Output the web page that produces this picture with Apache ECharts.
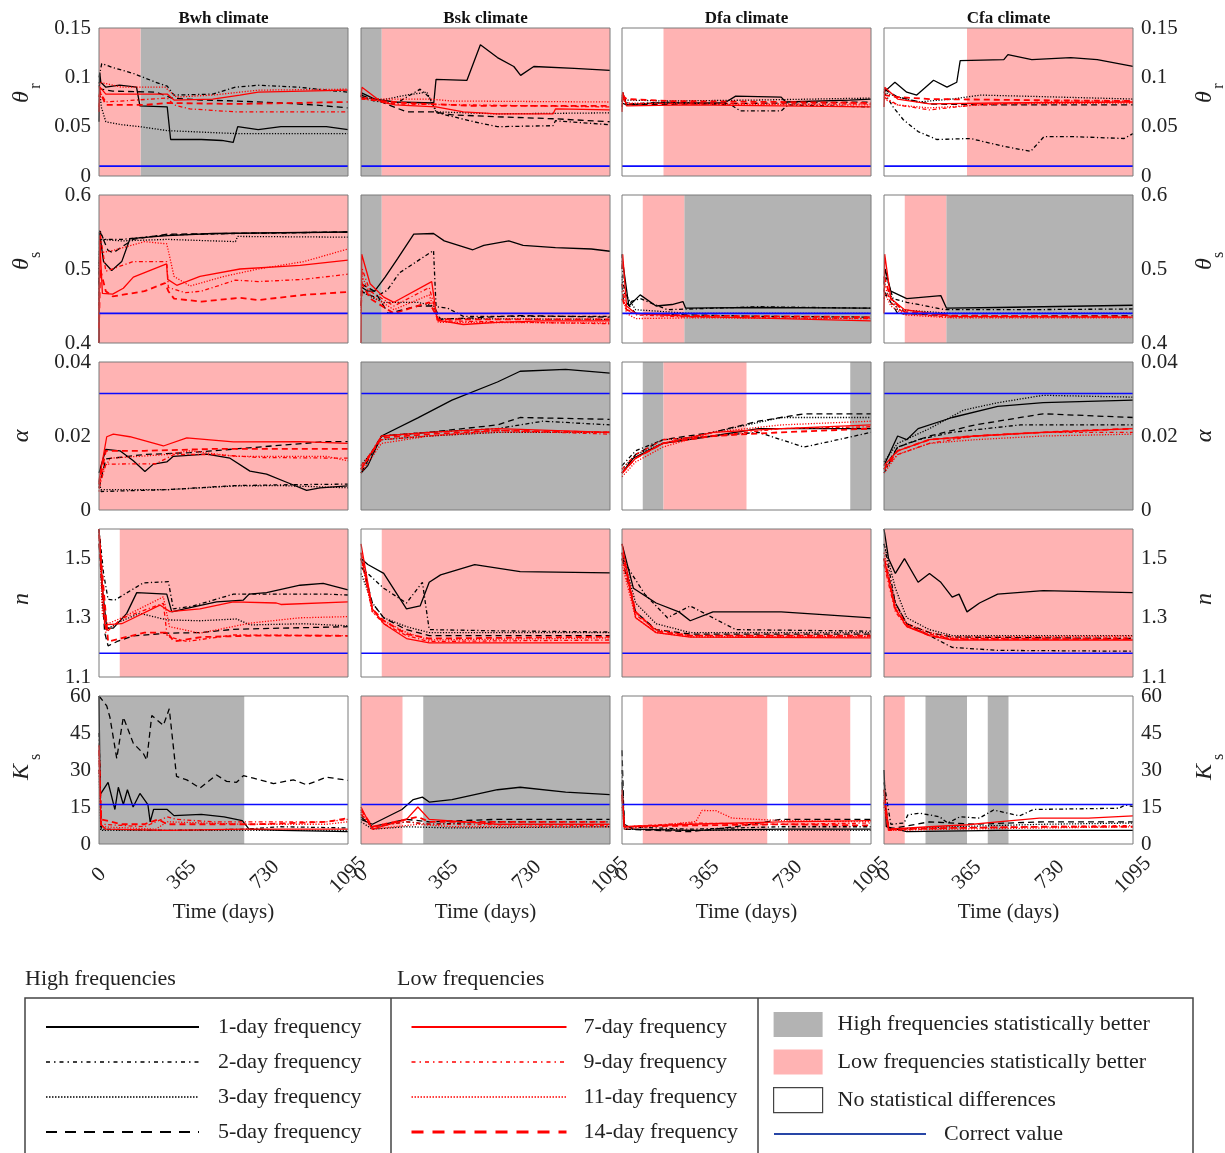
<!DOCTYPE html>
<html><head><meta charset="utf-8">
<script src="https://cdn.jsdelivr.net/npm/echarts@6/dist/echarts.min.js"></script>
<style>html,body{margin:0;padding:0;background:#fff}#c{width:1225px;height:1153px}</style>
</head><body><div id="c"></div>
<script>
// ---------- categories / labels ----------
const climates = ['Bwh climate', 'Bsk climate', 'Dfa climate', 'Cfa climate'];
const freqNames = ['1-day frequency', '2-day frequency', '3-day frequency', '5-day frequency',
                   '7-day frequency', '9-day frequency', '11-day frequency', '14-day frequency'];
const shadeNames = { H: 'High frequencies statistically better', L: 'Low frequencies statistically better', N: 'No statistical differences' };
const xTickValues = [0, 365, 730, 1095];
const yTickLabels = [['0', '0.05', '0.1', '0.15'], ['0.4', '0.5', '0.6'], ['0', '0.02', '0.04'], ['1.1', '1.3', '1.5'], ['0', '15', '30', '45', '60']];
const yRanges = [[0, 0.15, 0.05], [0.4, 0.6, 0.1], [0, 0.04, 0.02], [1.1, 1.6, 0.2], [0, 60, 15]];
const correctValues = [0.01, 0.44, 0.0315, 1.18, 16];

// ---------- series values: [day, value], order = freqNames ----------
const bwhThetaR = [
  [[0,0.055],[3,0.105],[8,0.095],[30,0.09],[90,0.092],[165,0.09],[180,0.071],[300,0.07],[315,0.037],[450,0.037],[540,0.036],[590,0.034],[610,0.05],[700,0.047],[800,0.05],[1000,0.05],[1095,0.047]],
  [[0,0.1],[12,0.114],[60,0.11],[150,0.104],[250,0.095],[300,0.091],[330,0.082],[500,0.083],[600,0.09],[700,0.092],[880,0.09],[1000,0.087],[1095,0.085]],
  [[0,0.095],[10,0.07],[30,0.055],[100,0.052],[180,0.05],[300,0.046],[400,0.045],[600,0.043],[1095,0.043]],
  [[0,0.09],[10,0.088],[60,0.086],[250,0.085],[320,0.079],[450,0.077],[600,0.076],[800,0.074],[950,0.072],[1095,0.069]],
  [[0,0.065],[4,0.09],[30,0.083],[300,0.083],[330,0.077],[500,0.078],[620,0.082],[700,0.085],[1095,0.087]],
  [[0,0.07],[5,0.085],[30,0.075],[300,0.079],[330,0.072],[400,0.068],[600,0.065],[1095,0.065]],
  [[0,0.09],[5,0.095],[100,0.09],[290,0.09],[340,0.08],[500,0.082],[700,0.087],[1095,0.088]],
  [[0,0.08],[5,0.085],[30,0.072],[200,0.072],[300,0.074],[600,0.073],[1095,0.075]]
];
const bskThetaR = [
  [[0,0.08],[5,0.084],[60,0.078],[150,0.075],[320,0.074],[330,0.098],[466,0.097],[525,0.133],[600,0.12],[672,0.111],[702,0.102],[760,0.111],[938,0.109],[1095,0.107]],
  [[0,0.08],[60,0.076],[150,0.073],[260,0.088],[300,0.08],[335,0.064],[496,0.055],[600,0.05],[845,0.051],[855,0.056],[1095,0.052]],
  [[0,0.08],[90,0.077],[200,0.082],[290,0.085],[330,0.065],[600,0.063],[1095,0.064]],
  [[0,0.082],[90,0.075],[200,0.065],[320,0.065],[400,0.062],[600,0.06],[850,0.058],[1095,0.055]],
  [[0,0.08],[4,0.09],[90,0.075],[150,0.072],[330,0.07],[450,0.065],[600,0.063],[845,0.063],[855,0.068],[1095,0.067]],
  [[0,0.078],[90,0.076],[150,0.073],[500,0.072],[1095,0.07]],
  [[0,0.08],[90,0.078],[300,0.078],[400,0.076],[1095,0.075]],
  [[0,0.079],[90,0.076],[200,0.074],[500,0.071],[1095,0.071]]
];
const dfaThetaR = [
  [[0,0.075],[3,0.085],[20,0.072],[150,0.074],[450,0.074],[500,0.081],[700,0.08],[720,0.075],[1000,0.077],[1095,0.078]],
  [[0,0.07],[5,0.08],[30,0.073],[200,0.075],[480,0.072],[520,0.066],[700,0.066],[730,0.072],[1095,0.07]],
  [[0,0.076],[20,0.077],[200,0.076],[600,0.077],[1095,0.079]],
  [[0,0.074],[20,0.072],[300,0.073],[700,0.074],[1095,0.075]],
  [[0,0.065],[3,0.085],[20,0.071],[300,0.072],[700,0.071],[1095,0.07]],
  [[0,0.08],[20,0.073],[300,0.074],[700,0.073],[1095,0.073]],
  [[0,0.078],[20,0.074],[300,0.073],[1095,0.072]],
  [[0,0.082],[20,0.078],[200,0.076],[700,0.075],[1095,0.074]]
];
const cfaThetaR = [
  [[0,0.085],[48,0.095],[100,0.085],[144,0.082],[218,0.097],[277,0.09],[320,0.095],[335,0.117],[527,0.118],[545,0.123],[650,0.118],[821,0.12],[938,0.118],[1095,0.111]],
  [[0,0.085],[40,0.07],[85,0.057],[150,0.045],[232,0.037],[380,0.038],[527,0.03],[645,0.025],[704,0.04],[821,0.04],[1056,0.038],[1095,0.043]],
  [[0,0.085],[60,0.08],[150,0.075],[300,0.078],[424,0.082],[600,0.081],[1095,0.078]],
  [[0,0.088],[60,0.08],[200,0.073],[500,0.072],[1095,0.072]],
  [[0,0.07],[3,0.09],[60,0.078],[200,0.073],[500,0.074],[1095,0.075]],
  [[0,0.08],[60,0.072],[200,0.067],[400,0.072],[800,0.076],[1095,0.076]],
  [[0,0.078],[60,0.072],[200,0.069],[500,0.073],[1095,0.074]],
  [[0,0.082],[60,0.08],[200,0.078],[600,0.077],[1095,0.076]]
];
const bwhThetaS = [
  [[0,0.4],[2,0.55],[20,0.51],[56,0.498],[100,0.51],[136,0.541],[300,0.545],[500,0.548],[1095,0.55]],
  [[0,0.45],[3,0.553],[20,0.54],[100,0.54],[300,0.546],[600,0.548],[1095,0.55]],
  [[0,0.5],[4,0.54],[100,0.538],[300,0.54],[600,0.537],[610,0.544],[1095,0.543]],
  [[0,0.48],[5,0.55],[40,0.525],[63,0.522],[150,0.54],[300,0.547],[1095,0.55]],
  [[0,0.4],[3,0.54],[15,0.467],[60,0.466],[107,0.474],[151,0.489],[297,0.507],[302,0.486],[342,0.478],[444,0.49],[620,0.5],[884,0.505],[1095,0.512]],
  [[0,0.43],[4,0.55],[30,0.497],[150,0.51],[298,0.51],[305,0.475],[380,0.468],[450,0.47],[600,0.485],[700,0.483],[900,0.486],[1095,0.493]],
  [[0,0.45],[3,0.53],[10,0.522],[60,0.525],[200,0.537],[298,0.534],[330,0.49],[400,0.477],[550,0.49],[700,0.5],[900,0.51],[1095,0.527]],
  [[0,0.42],[5,0.5],[30,0.47],[60,0.463],[200,0.47],[290,0.481],[305,0.47],[330,0.46],[450,0.456],[620,0.461],[700,0.458],[900,0.465],[1095,0.469]]
];
const bskThetaS = [
  [[0,0.476],[30,0.47],[60,0.47],[106,0.489],[161,0.514],[232,0.547],[319,0.548],[366,0.538],[492,0.526],[540,0.532],[650,0.538],[713,0.532],[855,0.529],[1013,0.527],[1095,0.524]],
  [[0,0.47],[60,0.462],[114,0.471],[170,0.495],[319,0.525],[330,0.449],[382,0.447],[450,0.436],[1095,0.436]],
  [[0,0.47],[60,0.46],[100,0.455],[250,0.455],[320,0.45],[340,0.433],[1095,0.432]],
  [[0,0.48],[60,0.47],[120,0.44],[250,0.45],[320,0.45],[350,0.432],[700,0.437],[1095,0.435]],
  [[0,0.4],[3,0.52],[40,0.48],[100,0.462],[145,0.455],[311,0.483],[335,0.431],[450,0.425],[600,0.428],[800,0.43],[1095,0.43]],
  [[0,0.45],[5,0.5],[40,0.47],[145,0.45],[300,0.475],[340,0.43],[1095,0.426]],
  [[0,0.44],[5,0.49],[40,0.465],[145,0.445],[300,0.465],[340,0.428],[1095,0.427]],
  [[0,0.45],[5,0.48],[40,0.46],[145,0.44],[300,0.455],[340,0.432],[1095,0.432]]
];
const dfaThetaS = [
  [[0,0.5],[3,0.51],[30,0.45],[80,0.465],[150,0.45],[220,0.452],[268,0.456],[280,0.447],[600,0.448],[1095,0.447]],
  [[0,0.52],[5,0.48],[30,0.455],[80,0.46],[200,0.445],[600,0.449],[1095,0.447]],
  [[0,0.49],[5,0.47],[60,0.445],[300,0.44],[1095,0.44]],
  [[0,0.48],[5,0.46],[60,0.44],[300,0.438],[600,0.436],[1095,0.435]],
  [[0,0.5],[3,0.52],[20,0.45],[60,0.44],[300,0.436],[1095,0.43]],
  [[0,0.48],[20,0.445],[60,0.438],[300,0.435],[1095,0.433]],
  [[0,0.47],[20,0.44],[60,0.433],[300,0.434],[1095,0.433]],
  [[0,0.46],[20,0.445],[60,0.44],[300,0.437],[1095,0.435]]
];
const cfaThetaS = [
  [[0,0.48],[5,0.5],[30,0.47],[100,0.46],[250,0.464],[275,0.447],[500,0.448],[1095,0.451]],
  [[0,0.47],[10,0.49],[40,0.46],[100,0.455],[270,0.445],[600,0.445],[1095,0.446]],
  [[0,0.46],[20,0.47],[60,0.445],[300,0.44],[1095,0.44]],
  [[0,0.47],[20,0.46],[60,0.44],[300,0.437],[1095,0.437]],
  [[0,0.44],[3,0.52],[30,0.46],[90,0.445],[300,0.436],[1095,0.435]],
  [[0,0.48],[30,0.455],[90,0.44],[300,0.435],[1095,0.435]],
  [[0,0.47],[30,0.45],[90,0.438],[300,0.434],[1095,0.434]],
  [[0,0.49],[30,0.46],[90,0.442],[300,0.437],[1095,0.436]]
];
const bwhAlpha = [
  [[0,0.01],[30,0.0164],[92,0.016],[151,0.0133],[202,0.0104],[239,0.0124],[298,0.013],[327,0.0145],[473,0.0151],[576,0.014],[664,0.0105],[737,0.0097],[825,0.0075],[913,0.0053],[972,0.006],[1095,0.0065]],
  [[0,0.008],[10,0.005],[300,0.0055],[600,0.0066],[800,0.0068],[1095,0.007]],
  [[0,0.007],[10,0.0055],[300,0.0055],[600,0.0065],[800,0.0066],[1095,0.006]],
  [[0,0.006],[30,0.0138],[200,0.015],[400,0.0155],[600,0.0165],[1000,0.0185],[1095,0.0185]],
  [[0,0.008],[34,0.0198],[63,0.0205],[136,0.0198],[283,0.0173],[386,0.0195],[591,0.0184],[884,0.0185],[1095,0.018]],
  [[0,0.006],[30,0.0124],[250,0.0125],[330,0.015],[500,0.015],[700,0.0142],[1095,0.014]],
  [[0,0.005],[10,0.01],[50,0.014],[300,0.015],[400,0.016],[600,0.0145],[1000,0.0145],[1095,0.0133]],
  [[0,0.007],[30,0.016],[200,0.016],[500,0.0165],[1095,0.0165]]
];
const bskAlpha = [
  [[0,0.01],[30,0.012],[90,0.02],[250,0.0249],[400,0.0297],[600,0.0346],[700,0.0375],[900,0.038],[1095,0.037]],
  [[0,0.011],[90,0.02],[300,0.021],[600,0.022],[800,0.024],[1095,0.023]],
  [[0,0.012],[90,0.019],[300,0.02],[600,0.021],[1095,0.021]],
  [[0,0.01],[90,0.02],[300,0.021],[600,0.023],[700,0.025],[1095,0.0245]],
  [[0,0.011],[90,0.02],[300,0.021],[600,0.022],[1095,0.021]],
  [[0,0.012],[90,0.019],[300,0.02],[600,0.0215],[1095,0.0205]],
  [[0,0.01],[90,0.018],[300,0.02],[600,0.021],[1095,0.021]],
  [[0,0.011],[90,0.0195],[300,0.0205],[600,0.0215],[1095,0.021]]
];
const dfaAlpha = [
  [[0,0.01],[50,0.014],[180,0.018],[400,0.02],[600,0.022],[800,0.022],[1095,0.022]],
  [[0,0.012],[60,0.016],[180,0.019],[400,0.02],[600,0.021],[700,0.019],[800,0.017],[950,0.019],[1095,0.021]],
  [[0,0.011],[60,0.015],[180,0.018],[400,0.021],[700,0.025],[1095,0.025]],
  [[0,0.01],[60,0.015],[180,0.019],[400,0.021],[600,0.024],[800,0.026],[1095,0.026]],
  [[0,0.01],[60,0.014],[180,0.018],[400,0.021],[700,0.022],[1095,0.023]],
  [[0,0.011],[60,0.015],[180,0.019],[400,0.02],[700,0.022],[1095,0.0225]],
  [[0,0.009],[60,0.013],[180,0.017],[400,0.021],[700,0.023],[1095,0.024]],
  [[0,0.01],[60,0.014],[180,0.018],[400,0.02],[700,0.021],[1095,0.022]]
];
const cfaAlpha = [
  [[0,0.012],[30,0.016],[60,0.02],[100,0.019],[150,0.022],[300,0.025],[500,0.028],[700,0.029],[1095,0.0297]],
  [[0,0.01],[60,0.017],[150,0.019],[300,0.021],[600,0.023],[1095,0.023]],
  [[0,0.013],[60,0.018],[200,0.022],[350,0.027],[500,0.029],[700,0.031],[1095,0.0305]],
  [[0,0.011],[60,0.017],[200,0.02],[400,0.023],[700,0.026],[1095,0.025]],
  [[0,0.012],[60,0.016],[200,0.019],[400,0.02],[700,0.021],[1095,0.022]],
  [[0,0.011],[60,0.015],[200,0.018],[400,0.02],[700,0.021],[1095,0.021]],
  [[0,0.01],[60,0.015],[200,0.018],[400,0.019],[700,0.02],[1095,0.0205]],
  [[0,0.011],[60,0.016],[200,0.019],[400,0.02],[700,0.021],[1095,0.022]]
];
const bwhN = [
  [[0,1.6],[15,1.4],[34,1.265],[63,1.265],[122,1.315],[166,1.385],[298,1.38],[320,1.32],[386,1.332],[517,1.354],[635,1.36],[660,1.38],[737,1.385],[884,1.41],[986,1.416],[1095,1.394]],
  [[0,1.6],[20,1.45],[40,1.362],[70,1.36],[195,1.418],[305,1.422],[327,1.33],[415,1.34],[591,1.38],[750,1.38],[1000,1.38],[1095,1.377]],
  [[0,1.6],[15,1.35],[30,1.26],[100,1.29],[180,1.315],[298,1.293],[444,1.29],[605,1.296],[664,1.276],[900,1.28],[1095,1.273]],
  [[0,1.55],[25,1.25],[40,1.205],[80,1.22],[151,1.239],[298,1.248],[444,1.25],[591,1.261],[800,1.265],[1095,1.27]],
  [[0,1.6],[25,1.276],[100,1.28],[268,1.343],[312,1.321],[444,1.33],[591,1.354],[780,1.35],[800,1.345],[1095,1.354]],
  [[0,1.55],[30,1.25],[100,1.298],[283,1.349],[300,1.237],[386,1.22],[591,1.242],[1095,1.24]],
  [[0,1.6],[15,1.31],[40,1.28],[100,1.3],[283,1.371],[310,1.27],[444,1.248],[664,1.282],[884,1.3],[1095,1.304]],
  [[0,1.58],[40,1.22],[200,1.25],[300,1.25],[330,1.22],[450,1.235],[700,1.24],[1095,1.239]]
];
const bskN = [
  [[0,1.5],[30,1.48],[100,1.45],[200,1.33],[260,1.34],[300,1.42],[350,1.445],[500,1.48],[700,1.456],[1095,1.452]],
  [[0,1.47],[100,1.4],[200,1.35],[270,1.42],[300,1.26],[600,1.256],[1095,1.252]],
  [[0,1.45],[50,1.35],[100,1.3],[200,1.27],[300,1.25],[1095,1.25]],
  [[0,1.5],[50,1.35],[100,1.3],[200,1.26],[300,1.24],[1095,1.24]],
  [[0,1.55],[50,1.33],[100,1.28],[200,1.23],[300,1.215],[1095,1.215]],
  [[0,1.5],[50,1.32],[100,1.28],[200,1.24],[300,1.22],[1095,1.225]],
  [[0,1.5],[50,1.32],[100,1.29],[200,1.25],[300,1.225],[1095,1.232]],
  [[0,1.52],[50,1.33],[100,1.29],[200,1.245],[300,1.23],[1095,1.236]]
];
const dfaN = [
  [[0,1.55],[50,1.4],[150,1.35],[250,1.32],[300,1.29],[400,1.32],[700,1.32],[900,1.31],[1095,1.3]],
  [[0,1.5],[100,1.38],[200,1.3],[300,1.34],[500,1.26],[1095,1.255]],
  [[0,1.52],[60,1.35],[150,1.28],[300,1.25],[1095,1.25]],
  [[0,1.5],[60,1.32],[150,1.26],[300,1.245],[1095,1.245]],
  [[0,1.55],[60,1.3],[150,1.25],[300,1.235],[1095,1.232]],
  [[0,1.5],[60,1.31],[150,1.26],[300,1.24],[1095,1.238]],
  [[0,1.48],[60,1.3],[150,1.25],[300,1.236],[1095,1.236]],
  [[0,1.52],[60,1.32],[150,1.255],[300,1.24],[1095,1.24]]
];
const cfaN = [
  [[0,1.6],[20,1.5],[50,1.45],[90,1.5],[150,1.42],[200,1.45],[250,1.42],[300,1.37],[330,1.38],[365,1.32],[420,1.35],[500,1.38],[700,1.392],[1095,1.385]],
  [[0,1.55],[50,1.35],[100,1.28],[200,1.24],[300,1.2],[500,1.19],[1095,1.187]],
  [[0,1.55],[50,1.4],[100,1.3],[200,1.26],[300,1.24],[1095,1.24]],
  [[0,1.5],[50,1.35],[100,1.28],[200,1.25],[300,1.235],[1095,1.23]],
  [[0,1.5],[50,1.33],[100,1.27],[200,1.24],[300,1.225],[1095,1.225]],
  [[0,1.48],[50,1.32],[100,1.27],[200,1.245],[300,1.23],[1095,1.232]],
  [[0,1.52],[50,1.34],[100,1.28],[200,1.25],[300,1.235],[1095,1.238]],
  [[0,1.5],[50,1.33],[100,1.275],[200,1.24],[300,1.228],[1095,1.228]]
];
const bwhKs = [
  [[0,60],[5,20],[40,25],[70,14],[85,23],[107,16],[125,22],[150,15],[180,20.5],[215,16],[225,9],[240,14],[300,14],[330,11.5],[450,12],[550,11],[630,9.5],[660,6],[800,5.5],[1095,5]],
  [[0,45],[10,6],[300,5.5],[640,6],[800,7],[1095,6.5]],
  [[0,30],[8,5.5],[640,5.5],[1095,5.5]],
  [[0,60],[34,56],[48,51.4],[78,34.7],[107,51.4],[151,40.8],[195,36.7],[210,34],[232,52.1],[283,48.1],[309,54.8],[341,27.4],[386,26],[444,22.7],[517,28],[561,25.4],[605,25],[635,27.7],[679,26.7],[767,24.5],[855,26],[913,24],[1001,27.1],[1095,25.8]],
  [[0,40],[8,8],[30,6],[300,5.5],[640,6],[1095,6]],
  [[0,30],[10,8],[200,7],[300,11],[340,10],[500,9],[700,9],[1000,9],[1095,10]],
  [[0,35],[10,7],[250,6],[300,9],[640,8],[1000,8],[1095,9]],
  [[0,38],[10,10],[100,8],[200,8],[260,10],[300,8],[700,8],[1000,9],[1095,10.5]]
];
const bskKs = [
  [[0,10],[50,8],[180,14],[230,18],[270,19],[300,17],[400,18],[600,22],[700,23],[900,21],[1095,20]],
  [[0,12],[50,7],[200,9],[300,8],[600,9],[1095,9]],
  [[0,9],[50,6],[200,7],[400,6.5],[1095,7]],
  [[0,11],[50,7],[200,10],[300,9],[600,10],[1095,10]],
  [[0,15],[50,6],[200,10],[250,15],[300,10],[600,8],[1095,8]],
  [[0,12],[50,7],[200,9],[300,8],[1095,7.5]],
  [[0,13],[50,6],[250,8],[400,7],[1095,7]],
  [[0,14],[50,7],[250,11],[300,9],[1095,9]]
];
const dfaKs = [
  [[0,25],[10,8],[50,6],[300,5.5],[700,6],[1095,6]],
  [[0,30],[10,7],[300,6],[700,7],[1095,7]],
  [[0,20],[10,6],[300,5.5],[1095,5.5]],
  [[0,38],[10,6],[300,5],[500,7],[700,10],[1095,10]],
  [[0,22],[10,7],[300,8],[700,9],[1095,9.5]],
  [[0,18],[10,7],[300,8.5],[700,8],[1095,8.5]],
  [[0,15],[10,6],[325,9.1],[352,13.6],[413,13.5],[483,10.5],[700,9.5],[1095,9]],
  [[0,20],[10,7],[300,7.5],[700,8],[1095,7.5]]
];
const cfaKs = [
  [[0,30],[10,7],[100,5],[500,5.5],[1095,5.5]],
  [[0,25],[30,8],[88,8.5],[105,11.8],[158,12.5],[245,11],[280,8.5],[333,11],[420,10.5],[482,13.8],[596,11.4],[657,14],[1033,14.5],[1060,15.8],[1095,15.2]],
  [[0,20],[20,6],[300,7],[700,8],[1095,8.5]],
  [[0,22],[20,6],[200,9],[400,8],[700,9],[1095,9]],
  [[0,22],[20,6],[200,7],[368,7.8],[500,9],[683,10.5],[900,10.5],[1095,11.4]],
  [[0,18],[20,5.5],[300,6.5],[700,7],[1095,7.5]],
  [[0,15],[20,5.5],[300,6],[700,6.5],[1095,7]],
  [[0,17],[20,6],[300,6.5],[700,7],[1095,7]]
];

// ---------- significance shading: [startDay, endDay, H|L] ----------
const shadeThetaR = [[[0,182.5,'L'],[182.5,1095,'H']], [[0,91.25,'H'],[91.25,1095,'L']], [[182.5,1095,'L']], [[365,1095,'L']]];
const shadeThetaS = [[[0,1095,'L']], [[0,91.25,'H'],[91.25,1095,'L']], [[91.25,273.75,'L'],[273.75,1095,'H']], [[91.25,273.75,'L'],[273.75,1095,'H']]];
const shadeAlpha = [[[0,1095,'L']], [[0,1095,'H']], [[91.25,182.5,'H'],[182.5,547.5,'L'],[1003.75,1095,'H']], [[0,1095,'H']]];
const shadeN = [[[91.25,1095,'L']], [[91.25,1095,'L']], [[0,1095,'L']], [[0,1095,'L']]];
const shadeKs = [[[0,638.75,'H']], [[0,182.5,'L'],[273.75,1095,'H']], [[91.25,638.75,'L'],[730,1003.75,'L']], [[0,91.25,'L'],[182.5,365,'H'],[456.25,547.5,'H']]];

const panelData = [
  [bwhThetaR, bskThetaR, dfaThetaR, cfaThetaR],
  [bwhThetaS, bskThetaS, dfaThetaS, cfaThetaS],
  [bwhAlpha, bskAlpha, dfaAlpha, cfaAlpha],
  [bwhN, bskN, dfaN, cfaN],
  [bwhKs, bskKs, dfaKs, cfaKs]
];
const panelShade = [shadeThetaR, shadeThetaS, shadeAlpha, shadeN, shadeKs];

// ---------- layout & styles ----------
const FONT = '"Liberation Serif", "Times New Roman", serif';
const TXT = '#222';
const colLeft = [99, 361, 622, 884];
const rowTop = [28, 195, 362, 529, 696];
const PW = 249, PH = 148;
const shadeColor = { H: '#b3b3b3', L: '#ffb3b3', N: '#ffffff' };
const BLACK = '#000000', RED = '#ff0000', BLUE = '#0a0aff';
const freqStyles = [
  { color: BLACK, type: 'solid', width: 1.3 },
  { color: BLACK, type: [4, 2.5, 1.2, 2.5], width: 1.3 },
  { color: BLACK, type: [1.2, 1.6], width: 1.3 },
  { color: BLACK, type: [6, 4], width: 1.3 },
  { color: RED, type: 'solid', width: 1.3 },
  { color: RED, type: [4, 2.5, 1.2, 2.5], width: 1.3 },
  { color: RED, type: [1.2, 1.6], width: 1.3 },
  { color: RED, type: [6, 4], width: 1.8 }
];
const legendLineStyles = [
  { type: 'solid', width: 2 },
  { type: [4, 4, 1.5, 4], width: 1.5 },
  { type: [1.5, 1.5], width: 1.5 },
  { type: [11, 8], width: 2 },
  { type: 'solid', width: 2 },
  { type: [4, 4, 1.5, 4], width: 1.5 },
  { type: [1.5, 1.5], width: 1.5 },
  { type: [12, 9], width: 3 }
];

const option = {
  animation: false,
  backgroundColor: '#ffffff',
  grid: [], xAxis: [], yAxis: [], series: [], graphic: [], legend: []
};

for (let r = 0; r < 5; r++) {
  for (let c = 0; c < 4; c++) {
    const gi = r * 4 + c;
    option.grid.push({
      left: colLeft[c], top: rowTop[r], width: PW, height: PH,
      show: true, borderColor: '#7a7a7a', borderWidth: 1, backgroundColor: 'transparent', z: 6,
      containLabel: false, outerBoundsMode: 'none'
    });
    option.xAxis.push({
      type: 'value', gridIndex: gi, min: 0, max: 1095, interval: 365,
      axisLine: { show: false }, axisTick: { show: false }, splitLine: { show: false },
      axisLabel: {
        show: r === 4, rotate: 45, align: 'center', verticalAlign: 'middle', margin: 31,
        fontFamily: FONT, fontSize: 21, color: TXT,
        formatter: v => (xTickValues.indexOf(Math.round(v)) >= 0 ? String(Math.round(v)) : '')
      },
      name: r === 4 ? 'Time (days)' : '', nameLocation: 'middle', nameGap: 58,
      nameTextStyle: { fontFamily: FONT, fontSize: 21, color: TXT }
    });
    const [ymin, ymax, yint] = yRanges[r];
    const labels = yTickLabels[r];
    option.yAxis.push({
      type: 'value', gridIndex: gi, min: ymin, max: ymax, interval: yint,
      position: c === 3 ? 'right' : 'left',
      axisLine: { show: false }, axisTick: { show: false }, splitLine: { show: false },
      axisLabel: {
        show: c === 0 || c === 3, margin: 8, fontFamily: FONT, fontSize: 21, color: TXT,
        formatter: v => { const s = labels.find(l => Math.abs(parseFloat(l) - v) < yint * 1e-3); return s === undefined ? '' : s; }
      }
    });
    // shading
    ['H', 'L'].forEach(cat => {
      const iv = panelShade[r][c].filter(s => s[2] === cat);
      option.series.push({
        type: 'line', name: shadeNames[cat], xAxisIndex: gi, yAxisIndex: gi, data: [],
        symbol: 'none', silent: true, z: 1,
        itemStyle: { color: shadeColor[cat] }, lineStyle: { color: shadeColor[cat], width: 0 },
        markArea: {
          silent: true, itemStyle: { color: shadeColor[cat], opacity: 1 },
          data: iv.map(s => [{ xAxis: s[0] }, { xAxis: s[1] }])
        }
      });
    });
    // frequency lines
    panelData[r][c].forEach((d, k) => {
      option.series.push({
        type: 'line', name: freqNames[k], xAxisIndex: gi, yAxisIndex: gi, data: d,
        symbol: 'none', showSymbol: false, silent: true, z: 3, clip: true,
        itemStyle: { color: freqStyles[k].color },
        lineStyle: { color: freqStyles[k].color, type: freqStyles[k].type, width: freqStyles[k].width }
      });
    });
    // correct value
    option.series.push({
      type: 'line', name: 'Correct value', xAxisIndex: gi, yAxisIndex: gi,
      data: [[0, correctValues[r]], [1095, correctValues[r]]],
      symbol: 'none', silent: true, z: 4,
      itemStyle: { color: BLUE }, lineStyle: { color: BLUE, width: 1.6 }
    });
  }
}
// legend-only series for the white (no difference) category
option.series.push({
  type: 'line', name: shadeNames.N, xAxisIndex: 0, yAxisIndex: 0, data: [], symbol: 'none',
  itemStyle: { color: '#ffffff' }, lineStyle: { color: '#ffffff', width: 0 }
});

// ---------- legends ----------
const legTxt = { fontFamily: FONT, fontSize: 22, color: TXT };
option.legend.push({
  data: freqNames.slice(0, 4).map((n, k) => ({ name: n, lineStyle: legendLineStyles[k] })),
  left: 45, top: 1016, padding: 0, orient: 'vertical', itemWidth: 153, itemHeight: 14, itemGap: 13,
  selectedMode: false, itemStyle: { opacity: 0 },
  textStyle: Object.assign({ padding: [0, 0, 0, 14] }, legTxt)
});
option.legend.push({
  data: freqNames.slice(4).map((n, k) => ({ name: n, lineStyle: legendLineStyles[k + 4] })),
  left: 410, top: 1016, padding: 0, orient: 'vertical', itemWidth: 155, itemHeight: 14, itemGap: 13,
  selectedMode: false, itemStyle: { opacity: 0 },
  textStyle: Object.assign({ padding: [0, 0, 0, 12] }, legTxt)
});
option.legend.push({
  data: [
    { name: shadeNames.H },
    { name: shadeNames.L },
    { name: shadeNames.N, itemStyle: { borderColor: '#444', borderWidth: 1.2 } }
  ],
  left: 773, top: 1012, padding: 0, orient: 'vertical', itemWidth: 49, itemHeight: 25, itemGap: 12.5, icon: 'rect',
  selectedMode: false, textStyle: Object.assign({ padding: [0, 0, 0, 10] }, legTxt)
});
option.legend.push({
  data: [{ name: 'Correct value', lineStyle: { color: '#2846a6', width: 2 } }],
  left: 773, top: 1123, padding: 0, orient: 'vertical', itemWidth: 152, itemHeight: 14,
  selectedMode: false, itemStyle: { opacity: 0 },
  textStyle: Object.assign({ padding: [0, 0, 0, 13] }, legTxt)
});

// ---------- text / frame graphics ----------
const G = option.graphic;
climates.forEach((t, c) => {
  G.push({ type: 'text', x: colLeft[c] + PW / 2, y: 19, style: { text: t, font: 'bold 17px ' + FONT, fill: '#111', align: 'center', verticalAlign: 'middle', textAlign: 'center', textVerticalAlign: 'middle' } });
});
const yNames = [['θ', 'r'], ['θ', 's'], ['α', ''], ['n', ''], ['K', 's']];
const yNameOffsets = [[69, -11], [69, -9], [74, 0], [70, 0], [76, -15]];
yNames.forEach((nm, r) => {
  const baseY = rowTop[r] + yNameOffsets[r][0];
  [[22, 36], [1205, 1219]].forEach(([xm, xs]) => {
    G.push({ type: 'text', x: xm, y: baseY, rotation: Math.PI / 2, style: { text: nm[0], font: 'italic 24px ' + FONT, fill: TXT, align: 'center', verticalAlign: 'middle', textAlign: 'center', textVerticalAlign: 'middle' } });
    if (nm[1]) G.push({ type: 'text', x: xs, y: baseY + yNameOffsets[r][1], rotation: Math.PI / 2, style: { text: nm[1], font: '16px ' + FONT, fill: TXT, align: 'center', verticalAlign: 'middle', textAlign: 'center', textVerticalAlign: 'middle' } });
  });
});
G.push({ type: 'text', x: 25, y: 979, style: { text: 'High frequencies', font: '22px ' + FONT, fill: TXT, align: 'left', verticalAlign: 'middle', textAlign: 'left', textVerticalAlign: 'middle' } });
G.push({ type: 'text', x: 397, y: 979, style: { text: 'Low frequencies', font: '22px ' + FONT, fill: TXT, align: 'left', verticalAlign: 'middle', textAlign: 'left', textVerticalAlign: 'middle' } });
G.push({ type: 'rect', shape: { x: 25, y: 998, width: 1168, height: 200 }, style: { fill: 'none', stroke: '#444', lineWidth: 1.5 } });
G.push({ type: 'line', shape: { x1: 391, y1: 998, x2: 391, y2: 1160 }, style: { stroke: '#444', lineWidth: 1.5 } });
G.push({ type: 'line', shape: { x1: 758, y1: 998, x2: 758, y2: 1160 }, style: { stroke: '#444', lineWidth: 1.5 } });

const chart = echarts.init(document.getElementById('c'), null, { renderer: 'canvas' });
chart.setOption(option);
</script></body></html>
